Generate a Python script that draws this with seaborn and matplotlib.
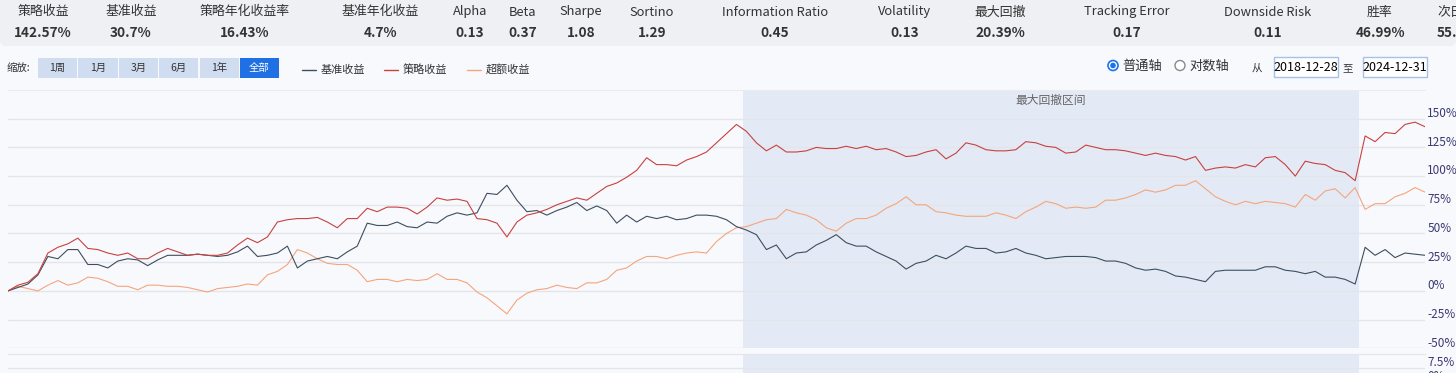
import pandas as pd
import matplotlib.pyplot as plt
import matplotlib.transforms as mtransforms
from matplotlib.patches import Rectangle, Circle, FancyBboxPatch
from matplotlib.ticker import FuncFormatter
import seaborn as sns

# ---- data ----
start_date = '2018-12-28'
end_date = '2024-12-31'
dd_start = '2022-02-08'   # 最大回撤区间
dd_end = '2024-09-19'

stat_names = ['策略收益', '基准收益', '策略年化收益率', '基准年化收益', 'Alpha', 'Beta', 'Sharpe',
              'Sortino', 'Information Ratio', 'Volatility', '最大回撤', 'Tracking Error',
              'Downside Risk', '胜率', '次日胜率']
stat_values = ['142.57%', '30.7%', '16.43%', '4.7%', '0.13', '0.37', '1.08',
               '1.29', '0.45', '0.13', '20.39%', '0.17',
               '0.11', '46.99%', '55.42%']

zoom_buttons = ['1周', '1月', '3月', '6月', '1年', '全部']
series_names = ['基准收益', '策略收益', '超额收益']

strategy = [0, 5, 7.5, 15, 33, 38, 41, 46, 37, 36,
            33, 31, 33, 28, 28, 33, 37, 34, 31, 32,
            31, 31, 33, 40, 46, 42, 47, 60, 62, 63,
            63, 64, 60, 55, 63, 63, 72, 69, 73, 73,
            72, 67, 73, 81, 79, 80, 78, 63, 62, 59,
            47, 60, 66, 68, 71, 75, 78, 81, 79, 85,
            91, 94, 99, 105, 116, 110, 110, 109, 114, 117,
            121, 129, 137, 145, 139, 129, 122, 127, 121, 121,
            122, 125, 124, 124, 126, 124, 126, 123, 124, 121,
            117, 118, 121, 123, 115, 120, 129, 127, 123, 122,
            122, 123, 130, 129, 126, 125, 120, 121, 127, 125,
            123, 123, 122, 120, 118, 120, 118, 117, 114, 117,
            105, 107, 108, 107, 110, 108, 116, 117, 110, 100,
            113, 111, 110, 105, 103, 96, 135, 130, 138, 137,
            145, 147, 143]

benchmark = [0, 3, 6, 14, 30, 28, 36, 36, 23, 23,
             20, 26, 28, 27, 22, 27, 31, 31, 31, 32,
             31, 30, 31, 34, 39, 30, 31, 33, 39, 20,
             26, 28, 30, 28, 34, 39, 59, 57, 57, 60,
             56, 55, 60, 59, 65, 68, 66, 68, 85, 84,
             92, 79, 69, 70, 66, 70, 73, 77, 70, 74,
             70, 59, 66, 60, 65, 63, 65, 62, 63, 66,
             66, 65, 62, 56, 53, 49, 36, 40, 28, 33,
             34, 40, 44, 49, 42, 39, 39, 34, 30, 26,
             19, 24, 26, 31, 28, 33, 39, 37, 37, 33,
             34, 37, 33, 31, 28, 29, 30, 30, 30, 29,
             26, 26, 24, 20, 18, 19, 17, 13, 12, 10,
             8, 17, 18, 18, 18, 18, 21, 21, 18, 17,
             15, 17, 12, 12, 10, 6, 38, 31, 36, 29,
             33, 32, 31]

excess = [0, 4, 2, 0, 5, 9, 5, 7, 12, 11,
          8, 4, 4, 1, 5, 5, 4, 4, 3, 1,
          -1, 2, 3, 4, 6, 5, 14, 17, 23, 36,
          33, 28, 24, 23, 23, 18, 8, 10, 10, 8,
          10, 9, 10, 15, 10, 10, 7, -1, -6, -13,
          -20, -8, -2, 1, 2, 5, 3, 2, 7, 7,
          10, 18, 20, 26, 30, 30, 28, 31, 33, 34,
          33, 43, 50, 55, 56, 59, 62, 63, 71, 68,
          66, 62, 55, 52, 59, 63, 63, 66, 72, 76,
          82, 75, 75, 69, 68, 66, 65, 65, 65, 68,
          66, 63, 69, 73, 78, 76, 72, 73, 72, 73,
          79, 79, 81, 84, 88, 86, 88, 92, 92, 96,
          89, 82, 78, 75, 78, 76, 78, 77, 76, 73,
          84, 79, 87, 89, 81, 90, 71, 76, 76, 82,
          85, 90, 86]

y_ticks = [-50, -25, 0, 25, 50, 75, 100, 125, 150]
sub_ticks = [0, 7.5]

# ---- style ----
sns.set_style('white')
plt.rcParams['font.family'] = ['Noto Sans CJK SC', 'DejaVu Sans']

page_bg = '#f8f9fd'
bar_bg = '#eff0f4'
shade_c = '#e3eaf5'
grid_c = '#e3e5ea'
tick_c = '#3a3a72'
text_c = '#333333'
palette = {'基准收益': '#3e4e5e', '策略收益': '#c8413f', '超额收益': '#f5a57c'}

W, H = 1456, 373
fig = plt.figure(figsize=(W / 100, H / 100), dpi=100)
fig.patch.set_facecolor(page_bg)

# page chrome drawn in pixel units
ui = fig.add_axes([0, 0, 1, 1], zorder=0)
ui.set_xlim(0, W)
ui.set_ylim(H, 0)
ui.axis('off')

ui.add_patch(FancyBboxPatch((0, -10), W, 56, boxstyle='round,pad=0,rounding_size=6',
                            fc=bar_bg, ec='none'))
stat_x = [43, 131, 245, 380, 470, 523, 581, 652, 775, 905, 1000, 1127, 1268, 1380, 1437]
for i, (name, val) in enumerate(zip(stat_names, stat_values)):
    ha = 'left' if i == len(stat_names) - 1 else 'center'
    ui.text(stat_x[i], 12, name, ha=ha, va='center', fontsize=9.3, color=text_c)
    ui.text(stat_x[i], 33, val, ha=ha, va='center', fontsize=9.8, color=text_c,
            fontweight='bold')

# zoom buttons
ui.text(7, 68, '缩放:', ha='left', va='center', fontsize=7.5, color=text_c)
for i, lab in enumerate(zoom_buttons):
    x0 = 38 + i * 40.4
    active = lab == '全部'
    ui.add_patch(Rectangle((x0, 58), 39.2, 19.5, fc='#1f6fe5' if active else '#d0ddf0', ec='none'))
    ui.text(x0 + 19.6, 67.8, lab, ha='center', va='center', fontsize=7.5,
            color='white' if active else text_c)

# legend
for name, lx in zip(series_names, [302, 384, 467]):
    ui.plot([lx, lx + 14], [69.5, 69.5], color=palette[name], lw=1)
    ui.text(lx + 19, 69.5, name, ha='left', va='center', fontsize=8, color=text_c)

# axis type radios and date range
ui.add_patch(Circle((1113, 65.5), 5, fc='white', ec='#1a73e8', lw=1.2))
ui.add_patch(Circle((1113, 65.5), 2.8, fc='#1a73e8', ec='none'))
ui.text(1122, 66, '普通轴', ha='left', va='center', fontsize=9.5, color=text_c)
ui.add_patch(Circle((1180, 65.5), 5, fc='white', ec='#8a8a8a', lw=1))
ui.text(1189, 66, '对数轴', ha='left', va='center', fontsize=9.5, color=text_c)
ui.text(1257, 68, '从', ha='center', va='center', fontsize=7.5, color=text_c)
ui.text(1348, 68, '至', ha='center', va='center', fontsize=7.5, color=text_c)
for bx, d in [(1274, start_date), (1363, end_date)]:
    ui.add_patch(Rectangle((bx, 57), 63.5, 20, fc='white', ec='#a6c1e8', lw=1))
    ui.text(bx + 32, 67.5, d, ha='center', va='center', fontsize=9, color='black')

# ---- main chart ----
dates = pd.date_range(start_date, end_date, periods=len(strategy))
df = pd.DataFrame({'date': dates, '基准收益': benchmark, '策略收益': strategy, '超额收益': excess})
long_df = df.melt(id_vars='date', var_name='series', value_name='value')

ax = fig.add_axes([8 / W, 1 - 348.3 / H, 1417 / W, (348.3 - 90) / H], zorder=1)
ax.set_facecolor(page_bg)
ax.axvspan(pd.Timestamp(dd_start), pd.Timestamp(dd_end), color=shade_c, lw=0, zorder=0.3)
sns.lineplot(data=long_df, x='date', y='value', hue='series', palette=palette,
             hue_order=['超额收益', '基准收益', '策略收益'], estimator=None,
             linewidth=0.8, legend=False, ax=ax, zorder=2)
ax.set_xlim(dates[0], dates[-1])
ax.set_ylim(-50, 175)
ax.set_xticks([])
ax.set_xlabel('')
ax.set_ylabel('')
ax.set_yticks(y_ticks)
ax.yaxis.set_major_formatter(FuncFormatter(lambda v, p: f'{v:g}%'))
ax.grid(axis='y', color=grid_c, lw=1)
ax.set_axisbelow(True)
for s in ['left', 'right', 'bottom']:
    ax.spines[s].set_visible(False)
ax.spines['top'].set_color('#e9ebf0')
ax.tick_params(axis='y', length=0, labelleft=False, labelright=True, pad=1.7,
               labelsize=8.5, labelcolor=tick_c)

mid = pd.Timestamp(dd_start) + (pd.Timestamp(dd_end) - pd.Timestamp(dd_start)) / 2
ax.text(mid, 0.961, '最大回撤区间', transform=ax.get_xaxis_transform(), ha='center',
        va='center', fontsize=8.5, color='#666666')

# lower panel (mostly cut off)
ax2 = fig.add_axes([8 / W, 1 - 400 / H, 1417 / W, (400 - 354) / H], zorder=1)
ax2.set_facecolor(page_bg)
ax2.axvspan(pd.Timestamp(dd_start), pd.Timestamp(dd_end), color=shade_c, lw=0, zorder=0.3)
ax2.set_xlim(dates[0], dates[-1])
ax2.set_ylim(-9.64, 15)
ax2.set_xticks([])
ax2.set_yticks(sub_ticks)
ax2.yaxis.set_major_formatter(FuncFormatter(lambda v, p: f'{v:g}%'))
ax2.grid(axis='y', color=grid_c, lw=1)
ax2.set_axisbelow(True)
for s in ['left', 'right', 'bottom']:
    ax2.spines[s].set_visible(False)
ax2.spines['top'].set_color(grid_c)
ax2.tick_params(axis='y', length=0, labelleft=False, labelright=True, pad=1.7,
                labelsize=8.5, labelcolor=tick_c)

# tick labels sit just above their grid lines
shift = mtransforms.ScaledTranslation(0, 0.066, fig.dpi_scale_trans)
for a in (ax, ax2):
    for lbl in a.get_yticklabels():
        lbl.set_transform(lbl.get_transform() + shift)

fig.savefig('out.png', dpi=100, facecolor=fig.get_facecolor())
